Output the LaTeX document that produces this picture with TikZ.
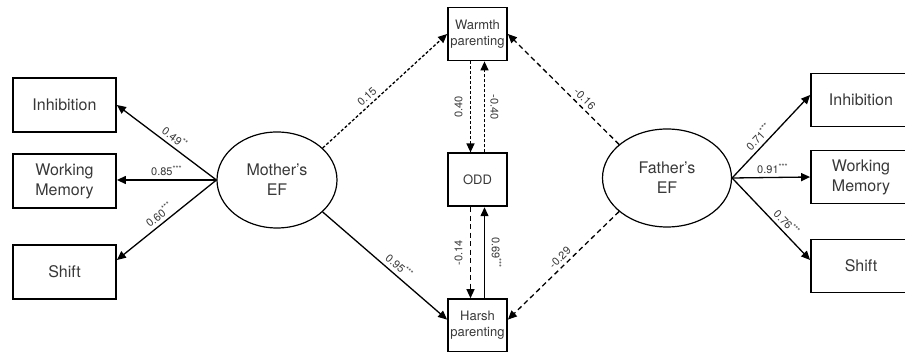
\documentclass[tikz,border=0pt]{standalone}
\usepackage{fontspec}
\setmainfont{TeX Gyre Heros}
\usepackage{tikz}
\usetikzlibrary{positioning}
\usetikzlibrary{arrows.meta}
\usetikzlibrary{shapes.geometric}
\definecolor{txtgray}{rgb}{0.22,0.22,0.22}

\begin{document}
\begin{tikzpicture}[
            x = 1pt, y = -1pt, % pixel grid, y downwards
            > = {Triangle[length=9pt,width=8pt]}, % arrow head style
            line width = 1.3pt % line style
        ]

        \tikzstyle{every node}=[text = txtgray]
        \tikzstyle{factor}=[
            draw, ellipse,
            line width = 1.2pt,
            inner sep = 0pt,
            align = center,
            font = \fontsize{16}{20}\selectfont
        ]
        \tikzstyle{indicator}=[
            draw, rectangle,
            line width = 1.8pt,
            minimum width = 103pt,
            minimum height = 54pt,
            align = center,
            font = \fontsize{16}{20}\selectfont
        ]
        \tikzstyle{mediator}=[
            draw, rectangle,
            line width = 1.8pt,
            minimum width = 59pt,
            minimum height = 53pt,
            inner sep = 1pt,
            align = center,
            font = \fontsize{13}{16}\selectfont
        ]
        \tikzstyle{coef}=[font = \fontsize{11}{13}\selectfont, inner sep = 3.5pt]
        \tikzstyle{shortdash}=[dash pattern = on 3pt off 2pt]
        \tikzstyle{longdash}=[dash pattern = on 5pt off 3.5pt]

        \useasboundingbox (0,0) rectangle (905,352);
        \clip (0,0) rectangle (905,352);

	% latent level
        \node[factor, minimum width = 120pt, minimum height = 96pt] (M) at (277,180) {Mother's\\EF};
        \node[factor, minimum width = 129pt, minimum height = 98pt] (F) at (667,178) {Father's\\EF};

        % indicators
        \node[indicator] (MI) at (64.5,105) {Inhibition};
        \node[indicator] (MW) at (64.5,181) {Working\\Memory};
        \node[indicator] (MS) at (64.5,272) {Shift};

        \node[indicator, minimum width = 100pt, minimum height = 53pt] (FI) at (861,100) {Inhibition};
        \node[indicator, minimum width = 100pt, minimum height = 53pt] (FW) at (861,177) {Working\\Memory};
        \node[indicator, minimum width = 100pt, minimum height = 53pt] (FS) at (861,266) {Shift};

        % parenting and child
        \node[mediator] (W) at (477.5,34) {Warmth\\parenting};
        \node[mediator] (O) [below = 91pt of W] {ODD};
        \node[mediator] (H) [below = 91pt of O] {Harsh\\parenting};

        % loadings
        \draw[->] (M.west) -- (MI.east) node[coef, sloped, above, pos = .47] {0.49\textsuperscript{**}};
        \draw[->] (M.west) -- (M.west -| MW.east) node[coef, above, pos = .5] {0.85\textsuperscript{***}};
        \draw[->] (M.west) -- ([yshift = 12pt]MS.east) node[coef, sloped, above, pos = .52] {0.60\textsuperscript{***}};

        \draw[->] (F.east) -- ([yshift = 5pt]FI.west) node[coef, sloped, above, pos = .42] {0.71\textsuperscript{***}};
        \draw[->] (F.east) -- (FW.west) node[coef, above, pos = .52] {0.91\textsuperscript{***}};
        \draw[->] (F.east) -- ([yshift = 6pt]FS.west) node[coef, sloped, above, pos = .62] {0.76\textsuperscript{***}};

        % paths to parenting
        \draw[->, shortdash] (M.35) -- (W.west) node[coef, sloped, above, pos = .4] {0.15};
        \draw[->] (M.-35) -- ([yshift = 6pt]H.west) node[coef, sloped, above, pos = .57] {0.95\textsuperscript{***}};
        \draw[->, longdash] (F.145) -- (W.east) node[coef, sloped, above, pos = .36] {-0.16};
        \draw[->, longdash] (F.-145) -- ([yshift = 6pt]H.east) node[coef, sloped, above, pos = .48] {-0.29};

        % parenting and ODD
        \draw[->, shortdash] ([xshift = -7pt]W.south) -- ([xshift = -7pt]O.north) node[coef, midway, xshift = -12pt, rotate = 90] {0.40};
        \draw[->, shortdash] ([xshift = 7pt]O.north) -- ([xshift = 7pt]W.south) node[coef, midway, xshift = 10pt, rotate = -90] {-0.40};
        \draw[->, longdash] ([xshift = -7pt]O.south) -- ([xshift = -7pt]H.north) node[coef, midway, xshift = -12pt, rotate = 90] {-0.14};
        \draw[->] ([xshift = 7pt]H.north) -- ([xshift = 7pt]O.south) node[coef, midway, xshift = 12pt, rotate = -90] {0.69\textsuperscript{***}};

  \end{tikzpicture}
\end{document}
